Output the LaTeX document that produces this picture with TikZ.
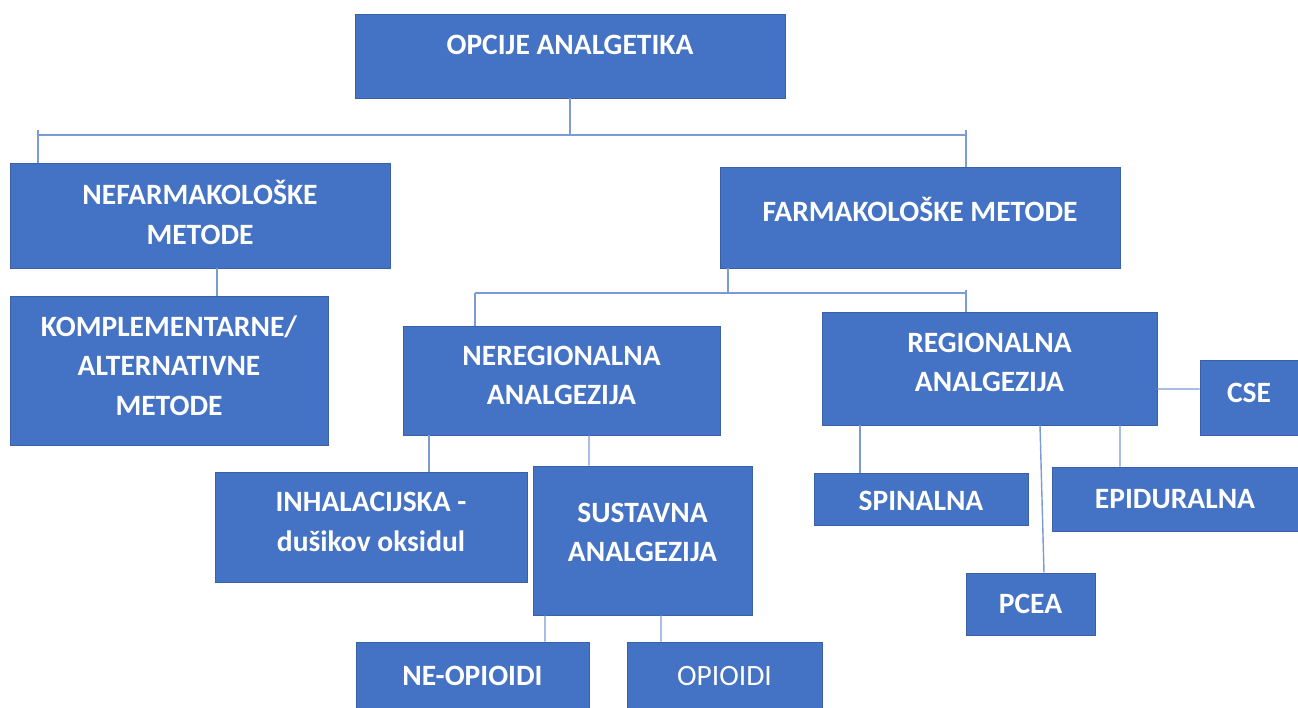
\documentclass[tikz,border=0pt]{standalone}
\usepackage{fontspec}
\setmainfont{Carlito}
\usetikzlibrary{calc}
\definecolor{boxblue}{HTML}{4472C4}
\definecolor{lineblue}{HTML}{7A9BD6}

\begin{document}
\begin{tikzpicture}[x=0.02cm,y=-0.02cm,
    box/.style={rectangle, draw=boxblue!85!black, line width=0.4pt,
      fill=boxblue, inner sep=0pt},
    lbl/.style={text=white, font=\fontsize{16.8}{22.5}\selectfont\bfseries,
      align=center},
    link/.style={draw=lineblue, line width=0.8pt}]

      \clip (0,0) rectangle (1298,707);
      \fill [white] (0,0) rectangle (1298,707);

      % level 1
      \node [box, minimum width=8.6cm, minimum height=1.68cm,
      label={[lbl, yshift=0.22cm]center:OPCIJE ANALGETIKA}] (opcije) at (570, 56) {};

      % level 2
      \node [box, minimum width=7.6cm, minimum height=2.1cm,
      label={[lbl, yshift=0.06cm]center:NEFARMAKOLOŠKE\\METODE}] (nefarm) at (200, 215.5) {};
      \node [box, minimum width=8.0cm, minimum height=2.02cm,
      label={[lbl, yshift=0.16cm]center:FARMAKOLOŠKE METODE}] (farm) at (920, 217.5) {};

      % level 3
      \node [box, minimum width=6.36cm, minimum height=2.98cm,
      label={[lbl, yshift=0.1cm]center:KOMPLEMENTARNE/\\ALTERNATIVNE\\METODE}] (kompl) at (169, 370.5) {};
      \node [box, minimum width=6.34cm, minimum height=2.18cm,
      label={[lbl, yshift=0.1cm]center:NEREGIONALNA\\ANALGEZIJA}] (nereg) at (561.5, 380.5) {};
      \node [box, minimum width=6.7cm, minimum height=2.26cm,
      label={[lbl, yshift=0.12cm]center:REGIONALNA\\ANALGEZIJA}] (reg) at (989.5, 368.5) {};
      \node [box, minimum width=1.96cm, minimum height=1.5cm,
      label={[lbl, yshift=0.1cm]center:CSE}] (cse) at (1249, 397.5) {};

      % level 4
      \node [box, minimum width=6.24cm, minimum height=2.2cm,
      label={[lbl, yshift=0.1cm]center:INHALACIJSKA -\\dušikov oksidul}] (inhal) at (371, 527) {};
      \node [box, minimum width=4.38cm, minimum height=2.98cm,
      label={[lbl, yshift=0.16cm]center:SUSTAVNA\\ANALGEZIJA}] (sust) at (642.5, 540.5) {};
      \node [box, minimum width=4.28cm, minimum height=1.04cm,
      label={[lbl, yshift=-0.04cm]center:SPINALNA}] (spin) at (921, 499) {};
      \node [box, minimum width=4.92cm, minimum height=1.28cm,
      label={[lbl]center:EPIDURALNA}] (epid) at (1175, 499) {};
      \node [box, minimum width=2.58cm, minimum height=1.24cm,
      label={[lbl]center:PCEA}] (pcea) at (1030.5, 604) {};

      % level 5
      \node [box, minimum width=4.66cm, minimum height=1.6cm,
      label={[lbl, yshift=0.12cm]center:NE-OPIOIDI}] (neop) at (472.5, 682) {};
      \node [box, minimum width=3.9cm, minimum height=1.6cm,
      label={[lbl, font=\fontsize{16.8}{22.5}\selectfont, yshift=0.12cm]center:OPIOIDI}] (opio) at (724.5, 682) {};

      % links level 1 - 2
      \coordinate (barL) at (38, 135);
      \coordinate (barR) at (966, 135);
      \draw [link] (barL) -- (barR);
      \draw [link] (opcije.south) -- (opcije.south |- barL);
      \draw [link] ($(barL)+(0,-5)$) -- (barL |- nefarm.north);
      \draw [link] ($(barR)+(0,-5)$) -- (barR |- farm.north);

      % links level 2 - 3
      \draw [link] ($(nefarm.south)+(17,0)$) -- ($(kompl.north)+(48,0)$);
      \coordinate (bar2L) at (475, 293);
      \coordinate (bar2R) at (966, 293);
      \draw [link] (bar2L) -- (bar2R);
      \draw [link] ($(farm.south)+(-192,0)$) -- ($(farm.south)+(-192,25)$);
      \draw [link] (bar2L) -- (bar2L |- nereg.north);
      \draw [link] ($(bar2R)+(0,-3)$) -- (bar2R |- reg.north);

      % links level 3 - 4
      \draw [link] ($(nereg.south)+(-132.5,0)$) -- ($(inhal.north)+(58,0)$);
      \draw [link] ($(nereg.south)+(27.5,0)$) -- ($(sust.north)+(-53.5,0)$);
      \draw [link] ($(reg.south)+(-129.5,0)$) -- ($(spin.north)+(-61,0)$);
      \draw [link] ($(reg.south)+(50.5,0)$) -- ($(pcea.north)+(13.5,0)$);
      \draw [link] ($(reg.south)+(130.5,0)$) -- ($(epid.north)+(-55,0)$);
      \draw [link] ($(reg.east)+(0,20.5)$) -- ($(cse.west)+(0,-8.5)$);

      % links level 4 - 5
      \draw [link] ($(sust.south)+(-97.5,0)$) -- ($(neop.north)+(72.5,0)$);
      \draw [link] ($(sust.south)+(18.5,0)$) -- ($(opio.north)+(-63.5,0)$);

\end{tikzpicture}
\end{document}
